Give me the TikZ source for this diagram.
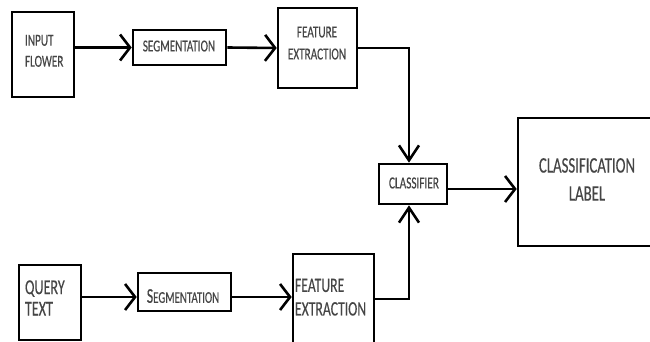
\documentclass[tikz,border=0pt]{standalone}
\usepackage{fontspec}
\usepackage{graphicx}
\setmainfont[FakeBold=0.4]{Carlito}
\usetikzlibrary{arrows.meta}
\definecolor{inkgrey}{HTML}{454545}
% text in this chart is drawn tall and narrow
\newcommand{\tallstack}[2]{\scalebox{1}[1.5]{\begin{tabular}{@{}#1@{}}#2\end{tabular}}}
\tikzset{
  box/.style={draw=black, line width=2.6pt, fill=none, inner sep=0pt},
  txt/.style={text=inkgrey, inner sep=0pt, outer sep=0pt},
  flow/.style={draw=black, line width=2.6pt, line join=miter},
  harr/.style={flow, -{Straight Barb[length=10pt,width=26pt,line width=2.6pt]}},
  varr/.style={flow, -{Straight Barb[length=15pt,width=20pt,line width=2.6pt]}}
}
\begin{document}
\begin{tikzpicture}[x=1pt,y=-1pt]
\useasboundingbox (0,0) rectangle (650,342);
\clip (0,0) rectangle (650,342);

% boxes
\node[box, minimum width=62pt, minimum height=85pt]  (inp)  at (43,54.5)   {};
\node[box, minimum width=93pt, minimum height=35pt]  (seg1) at (179.5,47.5) {};
\node[box, minimum width=79pt, minimum height=80pt]  (fe1)  at (317.5,48)  {};
\node[box, minimum width=68pt, minimum height=40pt]  (cls)  at (413,184)   {};
\node[box, minimum width=138pt, minimum height=128pt] (lab) at (587,182)   {};
\node[box, minimum width=62pt, minimum height=75pt]  (qry)  at (50,302.5)  {};
\node[box, minimum width=93pt, minimum height=38pt]  (seg2) at (184.5,292) {};
\node[box, minimum width=81pt, minimum height=106pt] (fe2)  at (333.5,307) {};

% labels
\node[txt, anchor=west, font=\fontsize{11.2}{14}\selectfont] (inpT) at (25,52)
  {\tallstack{l}{INPUT\\FLOWER}};
\node[txt, font=\fontsize{11.1}{13}\selectfont] (seg1T) at (179,47.5)
  {\tallstack{c}{SEGMENTATION}};
\node[txt, font=\fontsize{11.2}{14.7}\selectfont] (fe1T) at (317,44)
  {\tallstack{c}{FEATURE\\EXTRACTION}};
\node[txt, font=\fontsize{11.25}{13}\selectfont] (clsT) at (414,184.5)
  {\tallstack{c}{CLASSIFIER}};
\node[txt, font=\fontsize{14.8}{18.7}\selectfont] (labT) at (587,181)
  {\tallstack{c}{CLASSIFICATION\\LABEL}};
\node[txt, anchor=west, font=\fontsize{14.1}{14.3}\selectfont] (qryT) at (25,300.5)
  {\tallstack{l}{QUERY\\TEXT}};
\node[txt, font=\fontsize{14}{16}\selectfont] (seg2T) at (183,298)
  {\tallstack{c}{S{\fontsize{10.9}{12}\selectfont EGMENTATION}}};
\node[txt, anchor=west, font=\fontsize{13.7}{15.7}\selectfont] (fe2T) at (295,299)
  {\tallstack{l}{FEATURE\\EXTRACTION}};

% junction points of the connectors
\coordinate (j1) at (409,48);
\coordinate (j2) at (409,299);
\coordinate (cy) at (0,189);
\coordinate (qy) at (0,297);

% upper branch
\draw[harr] (seg1.west -| inp.east) -- (seg1.west);
\draw[harr] (seg1.east) -- (fe1.west);
\draw[varr] (fe1.east) -- (j1) -- (j1 |- cls.north);

% lower branch
\draw[harr] (qry.east |- qy) -- (seg2.west |- qy);
\draw[harr] (seg2.east |- qy) -- (fe2.west |- qy);
\draw[varr] (fe2.east |- j2) -- (j2) -- (j2 |- cls.south);

% output
\draw[harr] (cls.east |- cy) -- (lab.west |- cy);
\end{tikzpicture}
\end{document}
